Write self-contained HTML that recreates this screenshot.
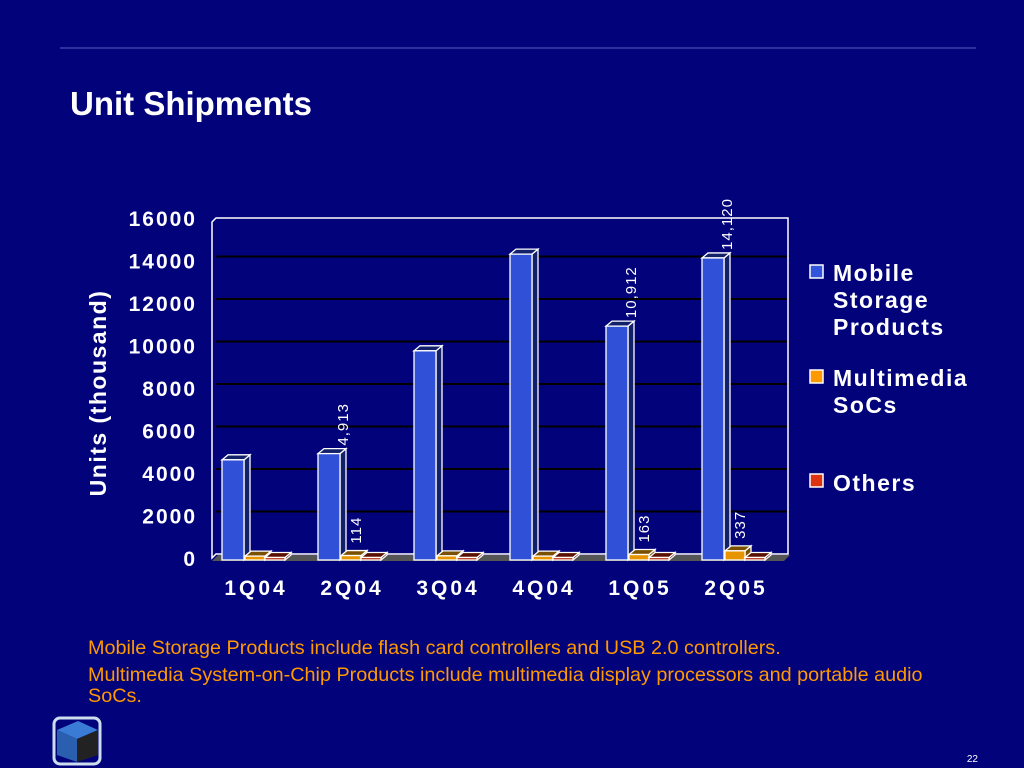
<!DOCTYPE html>
<html><head><meta charset="utf-8"><style>
html,body{margin:0;padding:0;background:#02027a;width:1024px;height:768px;overflow:hidden;font-family:"Liberation Sans",Arial,sans-serif}
</style></head><body>
<svg id="s" width="1024" height="768" xmlns="http://www.w3.org/2000/svg">
<rect width="1024" height="768" fill="#02027a"/>
<line x1="60" y1="48" x2="976" y2="48" stroke="#4040a8" stroke-width="1.5"/>
<text x="70" y="115" fill="#fff" font-size="33" font-weight="bold">Unit Shipments</text>
<text transform="translate(106,393) rotate(-90)" text-anchor="middle" fill="#fff" font-size="23" font-weight="bold" letter-spacing="1.5">Units (thousand)</text>
<g id="chart"></g>
<g font-size="23" font-weight="bold" fill="#fff" letter-spacing="1.5">
<g><rect x="810" y="265" width="13" height="13" fill="#3355dd" stroke="#fff" stroke-width="1.5"/><text x="833" y="281">Mobile</text><text x="833" y="308">Storage</text><text x="833" y="335">Products</text></g>
<g><rect x="810" y="370" width="13" height="13" fill="#ff9900" stroke="#fff" stroke-width="1.5"/><text x="833" y="386">Multimedia</text><text x="833" y="413">SoCs</text></g>
<g><rect x="810" y="474" width="13" height="13" fill="#dd3311" stroke="#fff" stroke-width="1.5"/><text x="833" y="491">Others</text></g>
</g>
<g fill="#ff9900" font-size="19.8">
<text x="88" y="654">Mobile Storage Products include flash card controllers and USB 2.0 controllers.</text>
<text x="88" y="681">Multimedia System-on-Chip Products include multimedia display processors and portable audio</text>
<text x="88" y="702">SoCs.</text>
</g>
<g>
<rect x="54" y="718" width="46" height="46" rx="6" fill="none" stroke="#cde" stroke-width="3"/>
<polygon points="57,730 78,721 98,730 77,739" fill="#3a7bd5"/>
<polygon points="57,730 77,739 77,762 57,755" fill="#2a5fb0"/>
<polygon points="77,739 98,730 98,755 77,762" fill="#222"/>
</g>
<text x="978" y="762" fill="#fff" font-size="10" text-anchor="end">22</text>
</svg>
<script>
const categories=["1Q04","2Q04","3Q04","4Q04","1Q05","2Q05"];
const mobileValues=[4620,4913,9750,14300,10912,14120];
const multimediaValues=[90,114,100,90,163,337];
const othersValues=[25,25,25,25,25,25];
const mobileLabels=["","4,913","","","10,912","14,120"];
const multimediaLabels=["","114","","","163","337"];
const yTicks=[0,2000,4000,6000,8000,10000,12000,14000,16000];

const NS="http://www.w3.org/2000/svg";
const g=document.getElementById('chart');
const y0=558,pxPer=(558-218)/16000;
const X0=212,groupW=96;
const dx=6,dy=5;
function yScale(v){return y0-v*pxPer;}
function xGroup(i){return X0+10+i*groupW;}
function mk(tag,attrs,parent){const e=document.createElementNS(NS,tag);for(const k in attrs)e.setAttribute(k,attrs[k]);(parent||g).appendChild(e);return e;}

const wall=mk('polygon',{points:`${X0},${yScale(16000)+4} ${X0+4},${yScale(16000)} ${788},${yScale(16000)} 788,${y0-4} ${X0+4},${y0-4} ${X0},${y0}`,fill:'none',stroke:'#fff','stroke-width':1.5});


yTicks.forEach(t=>{
  const yy=yScale(t);
  if(t>0&&t<16000){const l=mk('line',{x1:X0+4,y1:yy-4,x2:787,y2:yy-4,stroke:'#000','stroke-width':2});
  
  }
  const tx=mk('text',{x:197,y:yy+8,fill:'#fff','font-size':21,'font-weight':'bold','text-anchor':'end','letter-spacing':2});
  tx.textContent=t;
  
  
});
const fl=mk('polygon',{points:`${X0},${y0+3} ${X0+6},${y0-3} 790,${y0-3} 784,${y0+3}`,fill:'#555'});



function bar(x,w,v,fill,side,name){
  const top=yScale(v),bot=y0+2;
  const grp=mk('g',{});
  
  
  mk('polygon',{points:`${x+w},${top} ${x+w+dx},${top-dy} ${x+w+dx},${bot-dy} ${x+w},${bot}`,fill:side,stroke:'#fff','stroke-width':1.3},grp);
  mk('polygon',{points:`${x},${top} ${x+dx},${top-dy} ${x+w+dx},${top-dy} ${x+w},${top}`,fill:side,stroke:'#fff','stroke-width':1.3},grp);
  mk('rect',{x:x,y:top,width:w,height:bot-top,fill:fill,stroke:'#fff','stroke-width':1.3},grp);
  return top;
}
function vlabel(x,y,txt,name){
  if(!txt)return;
  const t=mk('text',{transform:`translate(${x},${y}) rotate(-90)`,fill:'#fff','font-size':15,'letter-spacing':'1'});
  t.textContent=txt;
  
  
}
categories.forEach((c,i)=>{
  const x=xGroup(i);
  const tm=bar(x,22,mobileValues[i],'#3050d8','#13206a','bar-mobile-'+c);
  bar(x+23,20,multimediaValues[i],'#e69500','#7a5000','bar-multimedia-'+c);
  bar(x+43,20,othersValues[i],'#b83010','#5a1000','bar-others-'+c);
  vlabel(x+30,tm-8,mobileLabels[i],'value-label-mobile');
  vlabel(x+43,yScale(multimediaValues[i])-12,multimediaLabels[i],'value-label-multimedia');
  const t=mk('text',{x:x+34,y:595,fill:'#fff','font-size':21,'font-weight':'bold','text-anchor':'middle','letter-spacing':3});
  t.textContent=c;
  
  
});
</script>
</body></html>
